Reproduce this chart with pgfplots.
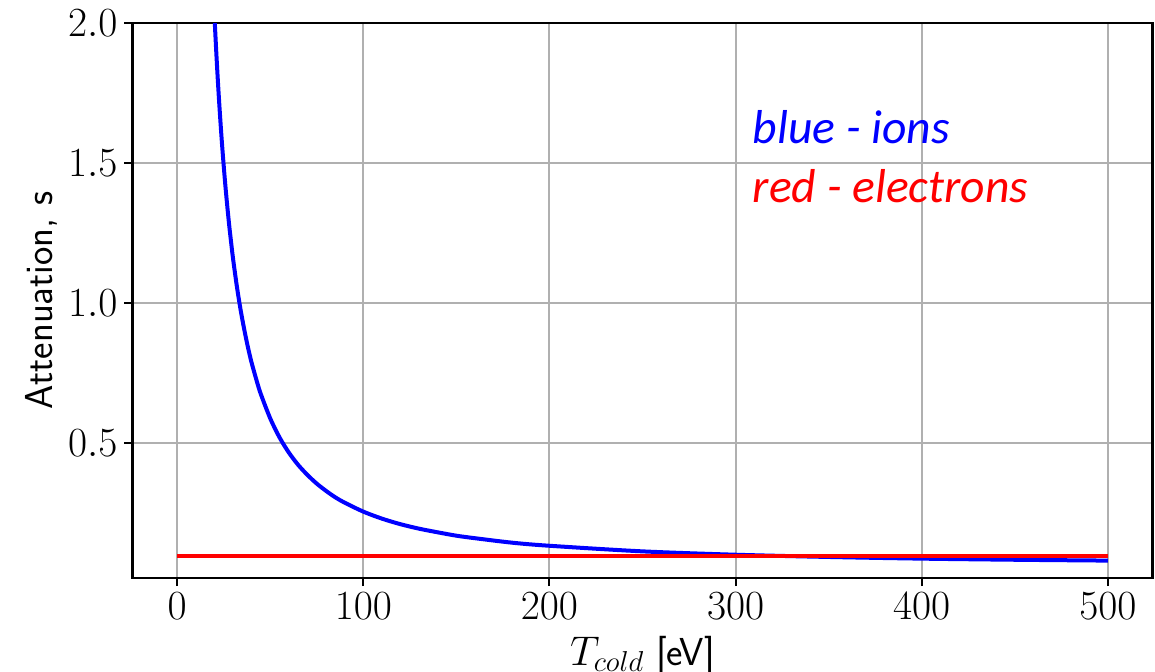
\documentclass[border=0pt]{standalone}
\usepackage{pgfplots}
\pgfplotsset{compat=1.18}
\usepackage{fontspec}
\newfontfamily\carlito{Carlito}
\definecolor{gridgray}{HTML}{B0B0B0}
\begin{document}
\begin{tikzpicture}
\useasboundingbox (-66.25pt,-46.5pt) rectangle (511.25pt,289pt);
\begin{axis}[
  scale only axis, width=510pt, height=277.5pt,
  xmin=-24, xmax=524, ymin=0.0168, ymax=2.0,
  xtick={0,100,200,300,400,500},
  ytick={0.5,1.0,1.5,2.0},
  yticklabel style={/pgf/number format/.cd, fixed, fixed zerofill, precision=1},
  ticklabel style={font=\fontsize{19.5}{22}\selectfont},
  grid=major, major grid style={color=gridgray, line width=1pt},
  axis line style={line width=1.3pt},
  tick style={line width=1pt, black},
  tick align=outside, major tick length=4pt,
  xtick pos=bottom, ytick pos=left,
  xlabel={$T_{cold}$ \textsf{[eV]}},
  ylabel={\textsf{Attenuation, s}},
  label style={font=\fontsize{19.5}{22}\selectfont},
  xlabel style={at={(axis description cs:0.5,0)}, anchor=base, yshift=-43.5pt, inner sep=0pt},
  ylabel style={at={(axis description cs:-0.1054,0.5)}, anchor=north, inner sep=0pt},
]
\addplot[blue, line width=2pt, smooth, tension=0.5] table {
x y
18 2.354
19 2.183
20 2.031
21 1.897
22 1.778
23 1.672
24 1.576
25 1.490
26 1.411
27 1.340
28 1.274
29 1.215
30 1.159
32 1.062
34 0.978
36 0.906
38 0.842
40 0.786
43 0.715
45 0.673
50 0.587
55 0.519
60 0.465
65 0.421
70 0.385
75 0.354
80 0.328
85 0.305
90 0.286
100 0.254
110 0.229
120 0.209
130 0.193
140 0.180
150 0.168
160 0.159
180 0.143
200 0.132
250 0.112
300 0.100
350 0.092
400 0.086
450 0.082
500 0.079
};
\addplot[red, line width=2pt] table {
x y
0 0.0943
500 0.0943
};
\node[anchor=base west, inner sep=0pt, text=blue, font=\carlito\itshape\fontsize{23.8}{28}\selectfont] at (axis cs:309,1.570) {blue - ions};
\node[anchor=base west, inner sep=0pt, text=red, font=\carlito\itshape\fontsize{23.8}{28}\selectfont] at (axis cs:309,1.360) {red - electrons};
\end{axis}
\end{tikzpicture}
\end{document}
